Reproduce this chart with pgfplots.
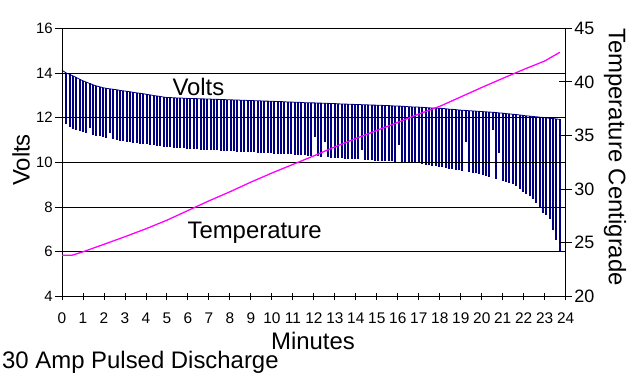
\documentclass[border=0pt]{standalone}
\usepackage{pgfplots}
\usepackage{pgfplotstable}
\pgfplotsset{compat=1.18}
\usepackage{fontspec}
\setmainfont{Liberation Sans}
\definecolor{navy}{RGB}{0,0,128}
\definecolor{mag}{RGB}{255,0,255}

\pgfplotstableread{
t hi lo
0.00 14.12 14.12
0.20 14.00 11.70
0.36 13.94 11.60
0.52 13.87 11.50
0.68 13.80 11.45
0.84 13.72 11.40
1.00 13.65 11.35
1.16 13.59 11.31
1.32 13.53 11.52
1.48 13.47 11.22
1.64 13.42 11.19
1.80 13.38 11.16
1.96 13.34 11.13
2.12 13.31 11.09
2.28 13.29 11.30
2.44 13.27 11.03
2.60 13.25 11.00
2.76 13.22 10.97
2.92 13.20 10.94
3.08 13.18 10.91
3.24 13.16 10.89
3.40 13.13 10.87
3.56 13.11 10.85
3.72 13.09 10.83
3.88 13.07 10.81
4.04 13.04 10.80
4.20 13.02 10.78
4.36 12.99 10.76
4.52 12.97 10.74
4.68 12.95 10.72
4.84 12.92 10.70
5.00 12.90 10.68
5.16 12.90 10.67
5.32 12.89 10.65
5.48 12.88 10.64
5.64 12.88 10.63
5.80 12.87 10.62
5.96 12.86 10.60
6.12 12.86 10.59
6.28 12.85 10.58
6.44 12.85 10.58
6.60 12.84 10.57
6.76 12.84 10.56
6.92 12.83 10.55
7.08 12.83 10.55
7.24 12.82 10.54
7.40 12.82 10.53
7.56 12.81 10.52
7.72 12.81 10.51
7.88 12.80 10.51
8.04 12.80 10.50
8.20 12.79 10.49
8.36 12.79 10.48
8.52 12.78 10.47
8.68 12.78 10.47
8.84 12.77 10.46
9.00 12.77 10.45
9.16 12.76 10.44
9.32 12.76 10.43
9.48 12.75 10.42
9.64 12.74 10.42
9.80 12.74 10.41
9.96 12.73 10.40
10.12 12.73 10.39
10.28 12.72 10.38
10.44 12.72 10.38
10.60 12.71 10.37
10.76 12.70 10.36
10.92 12.70 10.35
11.08 12.69 10.34
11.24 12.69 10.33
11.40 12.68 10.32
11.56 12.67 10.31
11.72 12.67 10.29
11.88 12.66 10.28
12.04 12.66 11.15
12.20 12.65 10.26
12.36 12.65 10.25
12.52 12.64 10.92
12.68 12.64 10.22
12.84 12.63 10.21
13.00 12.63 10.20
13.16 12.62 10.19
13.32 12.61 10.18
13.48 12.61 10.17
13.64 12.60 10.16
13.80 12.60 10.15
13.96 12.59 10.14
14.12 12.59 10.13
14.28 12.58 10.55
14.44 12.58 10.11
14.60 12.57 10.10
14.76 12.56 10.09
14.92 12.56 10.08
15.08 12.55 10.07
15.24 12.55 10.07
15.40 12.54 10.06
15.56 12.54 10.05
15.72 12.53 10.04
15.88 12.52 10.03
16.04 12.52 10.77
16.20 12.51 10.01
16.36 12.50 10.00
16.52 12.49 9.98
16.68 12.48 9.97
16.84 12.48 9.96
17.00 12.47 9.95
17.16 12.46 9.93
17.32 12.45 9.90
17.48 12.44 9.88
17.64 12.43 9.85
17.80 12.43 9.83
17.96 12.42 9.81
18.12 12.41 9.78
18.28 12.40 9.75
18.44 12.38 9.72
18.60 12.37 9.69
18.76 12.36 9.67
18.92 12.34 9.64
19.08 12.33 9.61
19.24 12.32 10.92
19.40 12.31 9.57
19.56 12.30 9.54
19.72 12.29 9.51
19.88 12.28 9.48
20.04 12.27 9.43
20.20 12.26 9.39
20.36 12.25 9.34
20.52 12.24 11.44
20.68 12.23 9.25
20.84 12.21 10.40
21.00 12.20 9.18
21.16 12.18 9.13
21.32 12.17 9.08
21.48 12.15 9.03
21.64 12.14 8.92
21.80 12.12 8.82
21.96 12.10 8.68
22.12 12.08 8.58
22.28 12.07 8.48
22.44 12.05 8.37
22.60 12.04 8.16
22.76 12.02 7.94
22.92 12.01 7.74
23.08 11.99 7.62
23.24 11.97 7.45
23.40 11.96 6.97
23.56 11.94 6.50
23.72 11.92 6.00
}\pulses

\pgfplotstableread{
t temp
0.00 23.82
0.50 23.84
1.00 24.15
2.00 24.85
3.00 25.56
4.00 26.30
5.00 27.10
6.00 28.00
7.00 28.90
8.00 29.75
9.00 30.65
10.00 31.50
11.00 32.30
12.00 33.10
13.00 33.94
14.00 34.72
15.00 35.47
16.00 36.22
17.00 37.00
18.00 37.72
19.00 38.60
20.00 39.48
21.00 40.33
22.00 41.16
23.00 41.95
23.72 42.76
}\temps

\begin{document}
\begin{tikzpicture}
\begin{axis}[
  at={(0,0)}, anchor=south west,
  scale only axis, width=503.7bp, height=268bp,
  xmin=0, xmax=24, ymin=4, ymax=16,
  xtick={0,1,...,24}, ytick={4,6,...,16},
  axis x line*=bottom, axis y line*=left,
  axis line style={black, line width=0.9pt, -},
  ymajorgrids, grid style={black, line width=0.9pt},
  axis on top,
  xtick align=center, ytick align=outside,
  major tick length=7bp,
  tick style={black, line width=0.9pt},
  /pgf/number format/assume math mode=true,
  xticklabel style={font=\fontsize{15.5}{15.5}\selectfont, inner sep=1pt, yshift=-12bp},
  yticklabel style={font=\fontsize{15}{15}\selectfont, inner sep=1pt, xshift=-1bp},
  clip=false,
]
\addplot[navy, line width=0.8pt, forget plot,
  error bars/.cd, y dir=minus, y explicit, error mark=none,
  error bar style={line width=2.0pt, navy}]
  table[x=t, y=hi, y error minus expr=\thisrow{hi}-\thisrow{lo}] {\pulses};
\node[font=\fontsize{24}{24}\selectfont] at (axis cs:6.5,13.37) {Volts};
\node[font=\fontsize{24}{24}\selectfont] at (axis cs:9.18,6.83) {Temperature};
\end{axis}
\begin{axis}[
  at={(0,0)}, anchor=south west,
  scale only axis, width=503.7bp, height=268bp,
  xmin=0, xmax=24, ymin=20, ymax=45,
  axis x line=none, axis y line*=right,
  axis line style={black, line width=0.9pt, -},
  ytick={20,25,...,45},
  ytick align=center, major tick length=13bp,
  tick style={black, line width=0.9pt},
  /pgf/number format/assume math mode=true,
  yticklabel style={font=\fontsize{18}{18}\selectfont, inner sep=1pt, xshift=1bp},
]
\addplot[mag, line width=1.3pt] table[x=t, y=temp] {\temps};
\end{axis}
\node[rotate=90, font=\fontsize{24}{24}\selectfont] at (-41bp,136.3bp) {Volts};
\node[rotate=-90, font=\fontsize{24}{24}\selectfont] at (553bp,139.3bp) {Temperature Centigrade};
\node[font=\fontsize{24}{24}\selectfont] at (251bp,-44.7bp) {Minutes};
\node[anchor=base west, inner sep=0pt, font=\fontsize{24}{24}\selectfont] at (-60bp,-72bp) {30 Amp Pulsed Discharge};
\pgfresetboundingbox
\path[use as bounding box] (-62bp,-79.7bp) rectangle (570bp,296.3bp);
\end{tikzpicture}
\end{document}
